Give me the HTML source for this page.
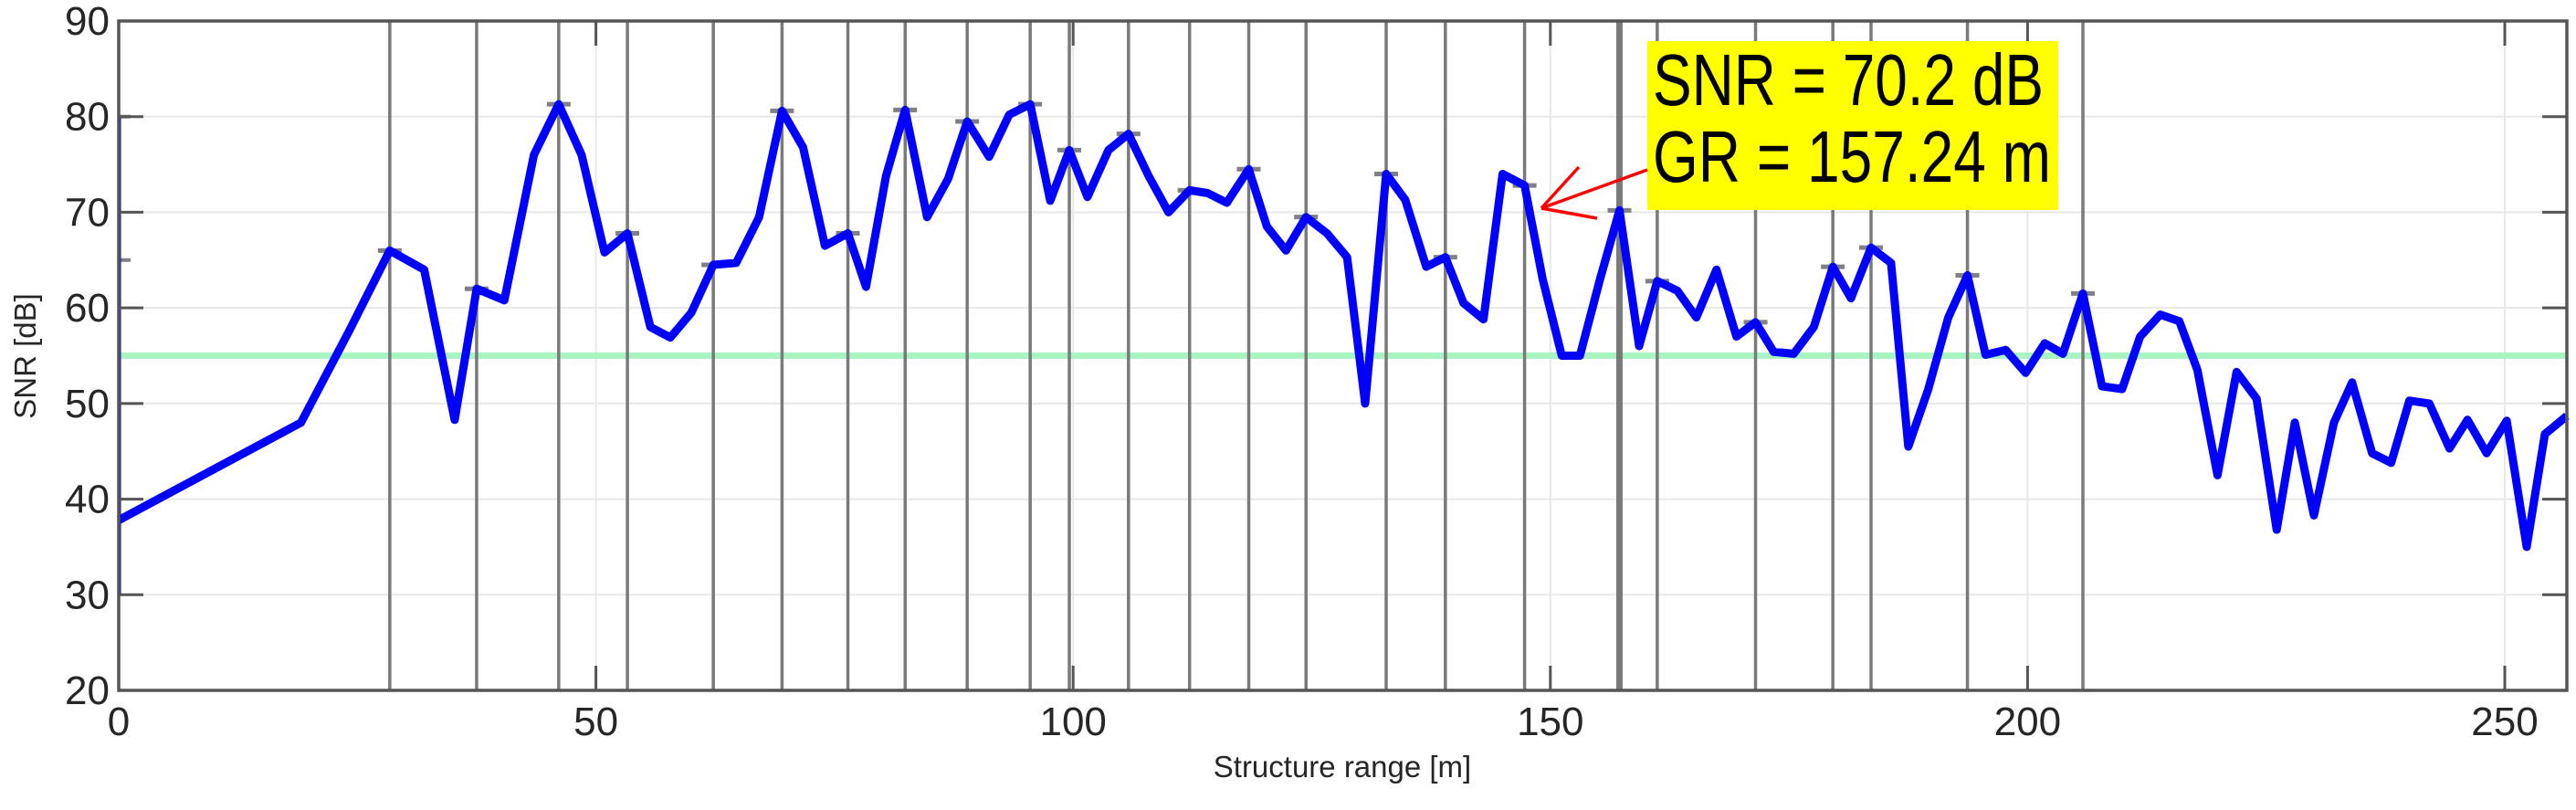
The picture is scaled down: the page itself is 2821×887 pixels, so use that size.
<!DOCTYPE html>
<html><head><meta charset="utf-8"><style>
html,body{margin:0;padding:0;background:#fff;}
svg{display:block;}
text{font-family:"Liberation Sans",sans-serif;fill:#262626;}
</style></head><body>
<svg id="chart" width="2821" height="887" viewBox="0 0 2821 887" xmlns="http://www.w3.org/2000/svg">
<g id="grid"></g>
<g id="threshold"></g>
<g id="peaks"></g>
<g id="series"></g>
<g id="axes"></g>
<g>
  <rect x="1804" y="45" width="450" height="185" fill="#ffff00"/>
  <text x="1810" y="115" font-size="80" textLength="428" lengthAdjust="spacingAndGlyphs" style="fill:#000">SNR = 70.2 dB</text>
  <text x="1810" y="199" font-size="80" textLength="436" lengthAdjust="spacingAndGlyphs" style="fill:#000">GR = 157.24 m</text>
  <g stroke="#ff0000" stroke-width="3.5" fill="none">
    <line x1="1804" y1="186" x2="1688" y2="228"/>
    <line x1="1688" y1="228" x2="1729" y2="183"/>
    <line x1="1688" y1="228" x2="1749" y2="239"/>
  </g>
</g>
<text x="1470" y="851" font-size="33" text-anchor="middle">Structure range [m]</text>
<text x="0" y="0" font-size="33" text-anchor="middle" transform="translate(39,390) rotate(-90)">SNR [dB]</text>
</svg>
<script>
const xs = [0,19.1,24.1,28.4,32,35.2,37.5,40.4,43.5,46.1,48.5,50.9,53.3,55.7,57.8,60,62.3,64.7,67.1,69.5,71.7,74,76.4,78.3,80.4,82.4,84.7,86.9,88.9,91.2,93.3,95.5,97.6,99.6,101.5,103.7,105.8,107.9,110,112.2,114.1,116.1,118.4,120.3,122.3,124.4,126.6,128.7,130.6,132.8,134.8,137,139,140.9,143,145,147.3,149.2,151.2,153.1,155.2,157.24,159.3,161.2,163.3,165.3,167.4,169.5,171.5,173.4,175.5,177.6,179.6,181.5,183.6,185.7,187.5,189.6,191.7,193.7,195.6,197.7,199.8,201.8,203.7,205.8,207.8,209.9,211.8,213.9,215.9,217.8,219.9,221.9,224,226.1,228,230,232.1,234,236.1,238.1,240,242.1,244.2,246.1,248.1,250.2,252.3,254.2,256.5];
const snr = [37.8,48,57.5,66,64,48.3,62,60.8,76,81.3,76,65.8,67.8,58,56.9,59.5,64.5,64.7,69.5,80.6,76.8,66.5,67.8,62.2,73.8,80.7,69.5,73.5,79.5,75.8,80.2,81.3,71.2,76.5,71.6,76.5,78.2,73.8,70,72.3,72,71,74.5,68.5,66,69.5,67.8,65.3,50,74,71.3,64.3,65.3,60.5,58.8,74,72.8,63,55,55,63,70.2,56,62.8,61.8,59,64,57,58.5,55.4,55.2,58,64.3,61,66.3,64.7,45.5,51.5,59,63.4,55.1,55.6,53.2,56.3,55.2,61.5,51.8,51.5,57,59.3,58.6,53.5,42.5,53.3,50.5,36.8,48,38.3,48,52.2,44.8,43.8,50.3,50,45.3,48.3,44.8,48.2,35,46.8,48.7];
const peakX = [28.4,37.5,46.1,53.3,62.3,69.5,76.4,82.4,88.9,95.5,99.6,105.8,112.2,118.4,124.4,132.8,139,147.3,157.24,161.2,171.5,179.6,183.6,193.7,205.8];
const peakY = [66,62,81.3,67.8,64.5,80.6,67.8,80.7,79.5,81.3,76.5,78.2,72.3,74.5,69.5,74,65.3,72.8,70.2,62.8,58.5,64.3,66.3,63.4,61.5];
const xTicks = [0,50,100,150,200,250];
const yTicks = [20,30,40,50,60,70,80,90];
const threshold = [55];

const L=130,R=2811,T=23,B=756,XMAX=256.5;
const sx=v=>L+v*(2743-130)/250;
const sy=v=>B-(v-20)*(B-T)/70;
const NS="http://www.w3.org/2000/svg";
function mk(tag,parent,attrs){const e=document.createElementNS(NS,tag);for(const k in attrs)e.setAttribute(k,attrs[k]);parent.appendChild(e);return e;}
const grid=document.getElementById('grid'),axes=document.getElementById('axes'),peaks=document.getElementById('peaks'),series=document.getElementById('series'),thr=document.getElementById('threshold');

xTicks.forEach(v=>{
  const g=mk('line',grid,{x1:sx(v),x2:sx(v),y1:T,y2:B,stroke:'#e8e8e8','stroke-width':2});
  
  
  const t1=mk('line',axes,{x1:sx(v),x2:sx(v),y1:B,y2:B-27,stroke:'#555','stroke-width':3});
  
  
  const t2=mk('line',axes,{x1:sx(v),x2:sx(v),y1:T,y2:T+27,stroke:'#555','stroke-width':3});
  
  
  const tx=mk('text',axes,{x:sx(v),y:805,'font-size':44,'text-anchor':'middle'});
  tx.textContent=v;
  
  
});
yTicks.forEach(v=>{
  const g=mk('line',grid,{x1:L,x2:R,y1:sy(v),y2:sy(v),stroke:'#e8e8e8','stroke-width':2});
  
  
  const t1=mk('line',axes,{x1:L,x2:L+27,y1:sy(v),y2:sy(v),stroke:'#555','stroke-width':3});
  
  
  const t2=mk('line',axes,{x1:R,x2:R-27,y1:sy(v),y2:sy(v),stroke:'#555','stroke-width':3});
  
  
  const tx=mk('text',axes,{x:L-10,y:sy(v)+15,'font-size':44,'text-anchor':'end'});
  tx.textContent=v;
  
  
});
threshold.forEach(v=>{
  const l=mk('line',thr,{x1:L,x2:R,y1:sy(v),y2:sy(v),stroke:'#a8f5c2','stroke-width':7});
  
  
});
peakX.forEach((v,i)=>{
  const w=(v===157.24)?7:3.5;
  const l=mk('line',peaks,{x1:sx(v),x2:sx(v),y1:T,y2:B,stroke:'#7a7a7a','stroke-width':w});
  
  
  const c=mk('line',peaks,{x1:sx(v)-13,x2:sx(v)+13,y1:sy(peakY[i]),y2:sy(peakY[i]),stroke:'#808080','stroke-width':5});
  
  
});
[80,65].forEach(v=>{
  const c=mk('line',peaks,{x1:sx(0),x2:sx(0)+13,y1:sy(v),y2:sy(v),stroke:'#808080','stroke-width':4});
  
  
});
const vb=mk('line',series,{x1:sx(0)+1,x2:sx(0)+1,y1:sy(30),y2:sy(80),stroke:'#0000ff','stroke-width':3});


const pts=xs.map((x,i)=>sx(x).toFixed(1)+','+sy(snr[i]).toFixed(1)).join(' ');
const pl=mk('polyline',series,{points:pts,fill:'none',stroke:'#0000ff','stroke-width':9,'stroke-linejoin':'round'});


const box=mk('rect',axes,{x:L,y:T,width:R-L,height:B-T,fill:'none',stroke:'#555','stroke-width':3.5});


</script>
</body></html>
